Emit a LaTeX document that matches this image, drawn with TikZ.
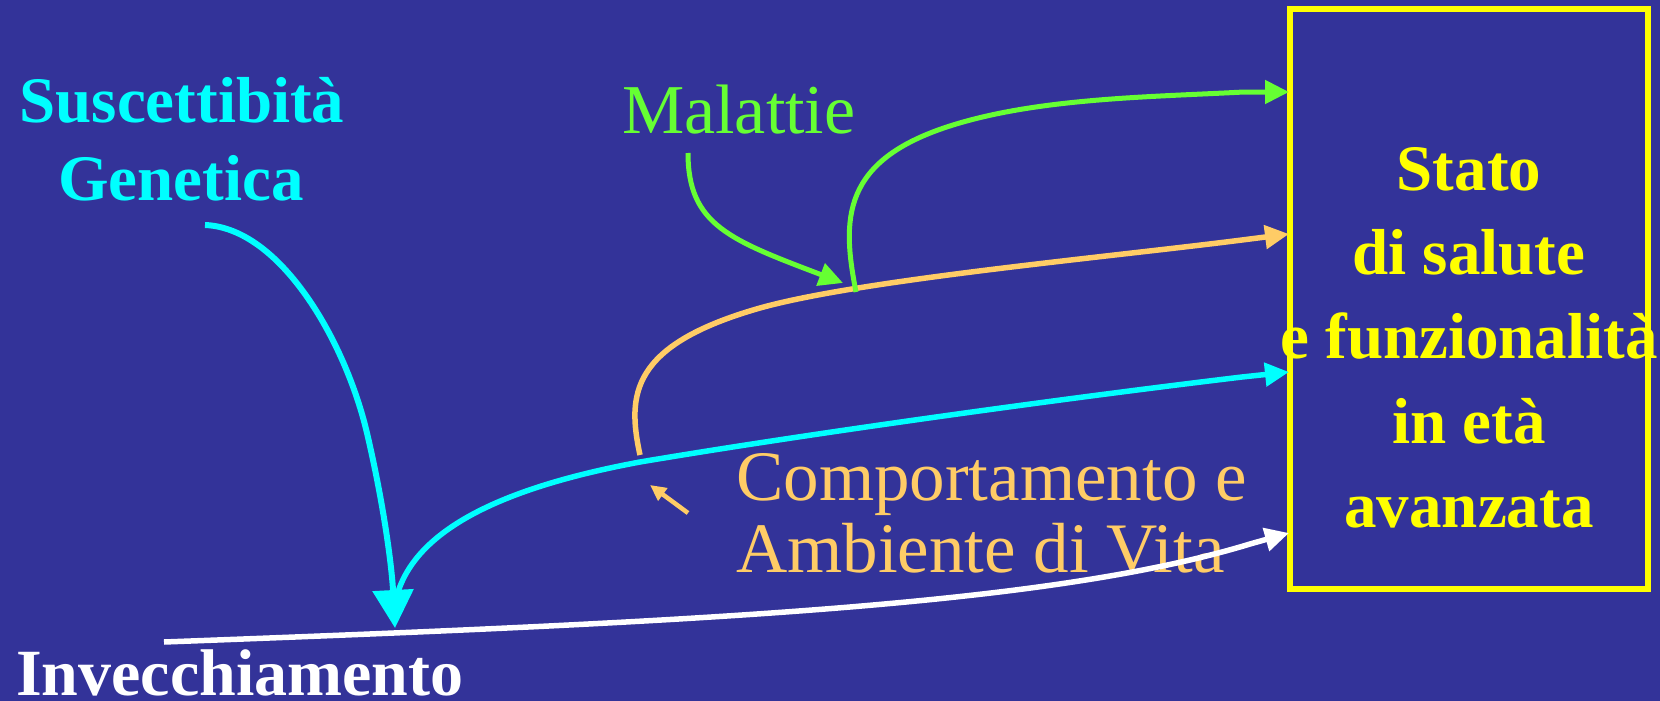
\documentclass[tikz,border=0pt]{standalone}
\usepackage{fontspec}
\setmainfont{Liberation Serif}
\usetikzlibrary{arrows.meta}
\definecolor{bg}{HTML}{333399}
\definecolor{cy}{HTML}{00FFFF}
\definecolor{gr}{HTML}{66FF33}
\definecolor{og}{HTML}{FFCC66}
\definecolor{yl}{HTML}{FFFF00}
\begin{document}
\begin{tikzpicture}[x=1pt,y=-1pt,
  boldtxt/.style={font=\fontsize{65}{70}\selectfont\bfseries, inner sep=0pt, anchor=base},
  regtxt/.style={font=\fontsize{71}{75}\selectfont, inner sep=0pt, anchor=base west},
  conn/.style={line width=5.5pt},
  smalltip/.style={-{Triangle[length=24pt,width=23pt]}},
  bigtip/.style={-{Triangle[length=38pt,width=40pt]}}]
\fill[bg] (0,0) rectangle (1660,701);
\useasboundingbox (0,0) rectangle (1660,701);

% texts
\node[boldtxt,text=cy] (sus) at (182,122) {Suscettibità};
\node[boldtxt,text=cy] (gen) at (181,200) {Genetica};
\node[regtxt,text=gr,font=\fontsize{70}{75}\selectfont] (mal) at (622,133) {Malattie};
\node[regtxt,text=og] (comp1) at (736,500) {Comportamento e};
\node[regtxt,text=og] (comp2) at (736,572) {Ambiente di Vita};
\node[boldtxt,text=white,anchor=base west,font=\fontsize{66}{70}\selectfont\bfseries] (inv) at (16,695) {Invecchiamento};

% box
\node[draw=yl, line width=6.5pt, minimum width=358pt, minimum height=580pt, inner sep=0pt] (box) at (1469,299) {};
\node[boldtxt,text=yl] (s1) at (1469,190) {Stato};
\node[boldtxt,text=yl] (s2) at (1469,274) {di salute};
\node[boldtxt,text=yl] (s3) at (1469,358) {e funzionalità};
\node[boldtxt,text=yl] (s4) at (1469,443) {in età};
\node[boldtxt,text=yl] (s5) at (1469,527) {avanzata};

% connector points
\coordinate (wstart) at (164,642);
\coordinate (wend) at (1289,533);
\coordinate (genout) at (205,225);
\coordinate (invpt) at (395,628);
\coordinate (invout) at (398,592);
\coordinate (cend) at (1289,372);
\coordinate (ostart) at (640,455);
\coordinate (oend) at (1289,234);
\coordinate (malout) at (688,153);
\coordinate (malin) at (843,283);
\coordinate (gstart) at (856,292);
\coordinate (gend) at (1289,92);
\coordinate (atail) at (688,513);
\coordinate (ahead) at (650,485);

% white: Invecchiamento -> box
\draw[conn,white,smalltip] (wstart) .. controls (700,622) and (1050,605) .. (1250,544) -- (wend);
% cyan: Genetica -> Invecchiamento
\draw[conn,cy,line width=6pt,bigtip] (genout) .. controls (280,228) and (345,340) .. (367,433) .. controls (385,510) and (392,570) .. (invpt);
% cyan: Invecchiamento -> box
\draw[conn,cy,smalltip] (invout) .. controls (418,530) and (500,488) .. (640,462) .. controls (800,435) and (1050,400) .. (1242,377) -- (cend);
% orange: comportamento -> box
\draw[conn,og,smalltip] (ostart) .. controls (627,395) and (630,345) .. (760,308) .. controls (860,280) and (1100,258) .. (1242,240) -- (oend);
% small orange arrow
\draw[conn,og,line width=4.5pt,-{Triangle[length=16pt,width=15pt]}] (atail) -- (ahead);
% green: Malattie -> orange line
\draw[conn,gr,line width=5pt,smalltip] (malout) .. controls (688,225) and (730,240) .. (malin);
% green: -> box
\draw[conn,gr,line width=5pt,smalltip] (gstart) .. controls (842,220) and (840,160) .. (953,125) .. controls (1040,98) and (1150,97) .. (1244,92) -- (gend);
\end{tikzpicture}
\end{document}
